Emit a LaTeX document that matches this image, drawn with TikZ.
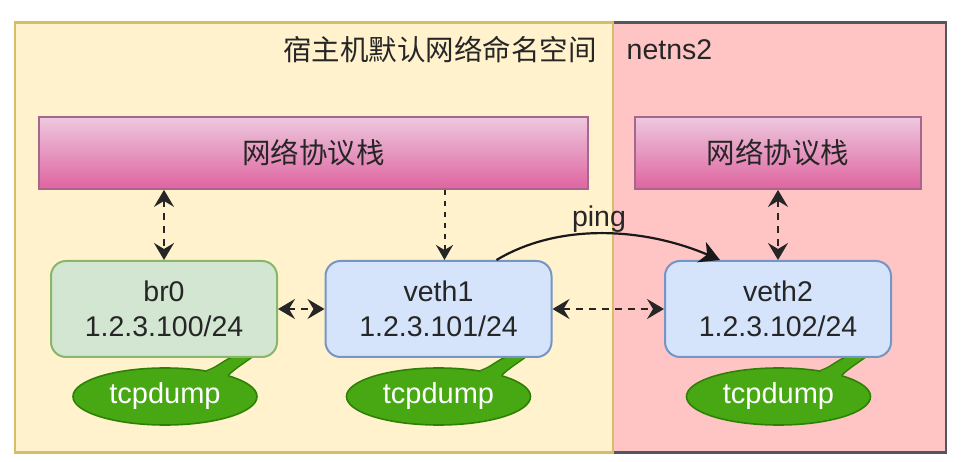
\documentclass[tikz,border=0pt]{standalone}
\usepackage{fontspec}
\setmainfont{Liberation Sans}
\newfontfamily\cjk{Noto Sans CJK SC}
\usetikzlibrary{arrows.meta,shapes.geometric,calc}
\definecolor{yfill}{HTML}{FFF2CC}
\definecolor{yline}{HTML}{D9BC66}
\definecolor{pfill}{HTML}{FFC4C4}
\definecolor{pline}{HTML}{55555C}
\definecolor{stline}{HTML}{A8668C}
\definecolor{gfill}{HTML}{D2E6D2}
\definecolor{gline}{HTML}{88B76C}
\definecolor{bfill}{HTML}{D5E4FB}
\definecolor{bline}{HTML}{7595C6}
\definecolor{bubfill}{HTML}{47A814}
\definecolor{bubline}{HTML}{2D8205}
\definecolor{stacktop}{HTML}{EDC8DE}
\definecolor{stackbot}{HTML}{DF64A0}
\tikzset{
  x=1pt,y=-1pt,
  txt/.style={font=\fontsize{28.5}{34}\selectfont,text=black!85,inner sep=0pt,align=center},
  region/.style={line width=2.6pt,anchor=north west,inner sep=0pt},
  stack/.style={draw=stline,line width=1.8pt,top color=stacktop,bottom color=stackbot,minimum height=72pt,inner sep=0pt,font=\cjk\fontsize{28.5}{34}\selectfont,text=black!85},
  dev/.style={rounded corners=15pt,line width=2pt,minimum width=226pt,minimum height=96pt,inner sep=0pt,align=center,font=\fontsize{28.5}{35}\selectfont,text=black!85},
  bub/.style={ellipse,draw=bubline,fill=bubfill,line width=1.6pt,minimum width=184pt,minimum height=57pt,inner sep=0pt,font=\fontsize{29}{34}\selectfont,text=white},
  link/.style={dashed,dash pattern=on 7pt off 6pt,line width=2pt,black!85,{Stealth[length=17pt,width=20pt,inset=6pt]}-{Stealth[length=17pt,width=20pt,inset=6pt]}},
  linkone/.style={dashed,dash pattern=on 5pt off 6pt,line width=2pt,black!85,-{Stealth[length=15pt,width=17pt,inset=5pt]}},
  pingline/.style={line width=2.2pt,black!90,-{Stealth[length=20pt,width=22pt,inset=6pt]}},
}
\newcommand{\bubtail}[1]{%
  \fill[bubfill,shift={(#1.center)}] (42,-25) .. controls (54,-30) and (60,-38) .. (70,-40) -- (88,-40) .. controls (80,-34) and (70,-28) .. (63,-20) -- (50,-10) -- cycle;
  \draw[bubline,line width=1.4pt,shift={(#1.center)}] (42,-26) .. controls (54,-30) and (60,-38) .. (70,-40);
  \draw[bubline,line width=1.4pt,shift={(#1.center)}] (63,-21) .. controls (70,-28) and (80,-34) .. (88,-40);
}
\begin{document}
\begin{tikzpicture}
\useasboundingbox (0,0) rectangle (962,462);
% regions
\node[region,draw=pline,fill=pfill,minimum width=333pt,minimum height=430pt] (ns2) at (611.5,21.5) {};
\node[region,draw=yline,fill=yfill,minimum width=598pt,minimum height=430pt] (host) at (13.5,21.5) {};
\node[txt,anchor=center] (hosttitle) at (440,50) {\cjk 宿主机默认网络命名空间};
\node[txt,anchor=center] (nstitle) at (669.5,50) {netns2};
% stacks
\node[stack,minimum width=549pt] (st1) at (313.5,153) {\raisebox{-2.5pt}{网络协议栈}};
\node[stack,minimum width=286pt] (st2) at (778,153) {\raisebox{-2.5pt}{网络协议栈}};
% bubbles
\node[bub] (b1) at (165,396.5) {\raisebox{-1.5pt}{tcpdump}};
\node[bub] (b2) at (438.5,396.5) {\raisebox{-1.5pt}{tcpdump}};
\node[bub] (b3) at (778.5,396.5) {\raisebox{-1.5pt}{tcpdump}};
\bubtail{b1}
\bubtail{b2}
\bubtail{b3}
% devices
\node[dev,draw=gline,fill=gfill] (br) at (164,309) {\raisebox{-1pt}{br0}\\\raisebox{-1pt}{1.2.3.100/24}};
\node[dev,draw=bline,fill=bfill] (v1) at (438.5,309) {\raisebox{-1pt}{veth1}\\\raisebox{-1pt}{1.2.3.101/24}};
\node[dev,draw=bline,fill=bfill] (v2) at (778,309) {\raisebox{-1pt}{veth2}\\\raisebox{-1pt}{1.2.3.102/24}};
% connectors
\draw[link] (br.north |- st1.south) -- (br.north);
\coordinate (v1in) at ($(v1.north)+(6,0)$);
\draw[linkone] (v1in |- st1.south) -- (v1in);
\draw[link] (st2.south) -- (v2.north);
\draw[link] (br.east) -- (v1.west);
\draw[link] (v1.east) -- (v2.west);
\coordinate (pingstart) at ($(v1.north)+(58,0)$);
\coordinate (pingend) at ($(v2.north)+(-58,0)$);
\draw[pingline] (pingstart) .. controls (560,222) and (645,228) .. (pingend);
\node[txt] (pinglabel) at (599,219) {ping};
\end{tikzpicture}
\end{document}
